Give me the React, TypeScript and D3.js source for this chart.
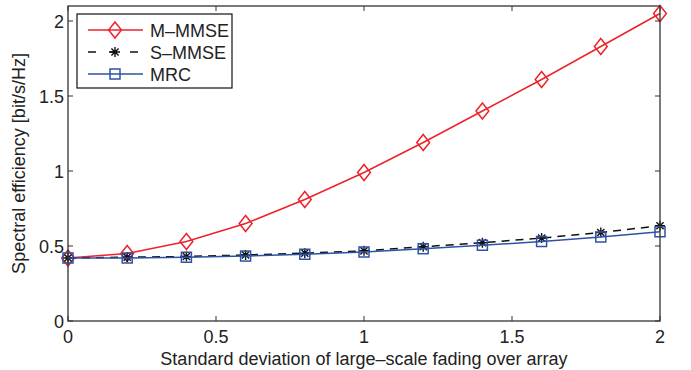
import * as d3 from "d3";

// x positions (std. dev. of large-scale fading over array)
const sigma = [0, 0.2, 0.4, 0.6, 0.8, 1.0, 1.2, 1.4, 1.6, 1.8, 2.0];
const mMmse = [0.42, 0.45, 0.53, 0.65, 0.81, 0.99, 1.19, 1.40, 1.61, 1.83, 2.05];
const sMmse = [0.42, 0.425, 0.43, 0.44, 0.452, 0.468, 0.495, 0.522, 0.553, 0.59, 0.635];
const mrc = [0.42, 0.42, 0.425, 0.433, 0.445, 0.46, 0.482, 0.505, 0.53, 0.56, 0.595];

const xTicks = [0, 0.5, 1, 1.5, 2];
const yTicks = [0, 0.5, 1, 1.5, 2];

const W = 691;
const H = 370;
const M = { left: 68, right: 31, top: 6, bottom: 49 };
const FONT = "'Liberation Sans', Arial, Helvetica, sans-serif";
const FS = 18;

function Diamond({ x, y, c }: { x: number; y: number; c: string }) {
  const r = 8;
  return (
    <path
      d={`M${x},${y - r}L${x + r * 0.8},${y}L${x},${y + r}L${x - r * 0.8},${y}Z`}
      fill="none"
      stroke={c}
      strokeWidth={1.5}
    />
  );
}

function Square({ x, y, c }: { x: number; y: number; c: string }) {
  const r = 5;
  return <rect x={x - r} y={y - r} width={2 * r} height={2 * r} fill="none" stroke={c} strokeWidth={1.5} />;
}

function Star({ x, y, c }: { x: number; y: number; c: string }) {
  const r = 5;
  const d = r * 0.72;
  return (
    <path
      d={`M${x - r},${y}H${x + r}M${x},${y - r}V${y + r}M${x - d},${y - d}L${x + d},${y + d}M${x - d},${y + d}L${x + d},${y - d}`}
      stroke={c}
      strokeWidth={1.4}
    />
  );
}

export default function App() {
  const x = d3.scaleLinear().domain([0, 2]).range([M.left, W - M.right]);
  const y = d3.scaleLinear().domain([0, 2.1]).range([H - M.bottom, M.top]);
  const line = (vals: number[]) =>
    d3.line<number>().x((_, i) => x(sigma[i])).y((v) => y(v))(vals) ?? "";

  const x0 = x(0);
  const x1 = x(2);
  const y0 = y(0);
  const y1 = y(2.1);

  const red = "#ee2229";
  const blue = "#2f52a6";
  const black = "#111";

  const series = [
    { name: "M\u2013MMSE", vals: mMmse, c: red, dash: undefined, M: Diamond },
    { name: "S\u2013MMSE", vals: sMmse, c: black, dash: "8,6", M: Star },
    { name: "MRC", vals: mrc, c: blue, dash: undefined, M: Square },
  ];

  return (
    <svg
      width={W}
      height={H}
      style={{ position: "absolute", left: 0, top: 0, background: "#fff" }}
      fontFamily={FONT}
    >
      {/* series: red, black dashed, blue on top */}
      {series.map((s) => (
        <g key={s.name}>
          <path d={line(s.vals)} fill="none" stroke={s.c} strokeWidth={1.5} strokeDasharray={s.dash} />
          {s.vals.map((v, i) => (
            <s.M key={i} x={x(sigma[i])} y={y(v)} c={s.c} />
          ))}
        </g>
      ))}

      {/* axes box */}
      <rect x={x0} y={y1} width={x1 - x0} height={y0 - y1} fill="none" stroke="#333" strokeWidth={1.3} />
      {xTicks.map((t) => (
        <g key={t}>
          <line x1={x(t)} x2={x(t)} y1={y0} y2={y0 - 5} stroke="#333" />
          <line x1={x(t)} x2={x(t)} y1={y1} y2={y1 + 5} stroke="#333" />
          <text x={x(t)} y={y0 + 22} textAnchor="middle" fontSize={FS} fill="#222">
            {t}
          </text>
        </g>
      ))}
      {yTicks.map((t) => (
        <g key={t}>
          <line x1={x0} x2={x0 + 5} y1={y(t)} y2={y(t)} stroke="#333" />
          <line x1={x1} x2={x1 - 5} y1={y(t)} y2={y(t)} stroke="#333" />
          <text x={x0 - 4} y={y(t) + 6.5} textAnchor="end" fontSize={FS} fill="#222">
            {t}
          </text>
        </g>
      ))}

      <text x={(x0 + x1) / 2} y={H - 5} textAnchor="middle" fontSize={FS} fill="#222">
        Standard deviation of large{"\u2013"}scale fading over array
      </text>
      <text
        transform={`translate(25,${(y0 + y1) / 2}) rotate(-90)`}
        textAnchor="middle"
        fontSize={FS}
        fill="#222"
      >
        Spectral efficiency [bit/s/Hz]
      </text>

      {/* legend */}
      <g>
        <rect x={77} y={14} width={155} height={74} fill="#fff" stroke="#111" strokeWidth={1.2} />
        {series.map((s, i) => {
          const ly = 30 + i * 22;
          return (
            <g key={s.name}>
              <line
                x1={88}
                x2={143}
                y1={ly}
                y2={ly}
                stroke={s.c}
                strokeWidth={1.5}
                strokeDasharray={s.dash ? "8,13" : undefined}
              />
              <s.M x={115} y={ly} c={s.c} />
              <text x={150} y={ly + 6.5} fontSize={FS} fill="#222">
                {s.name}
              </text>
            </g>
          );
        })}
      </g>
    </svg>
  );
}
